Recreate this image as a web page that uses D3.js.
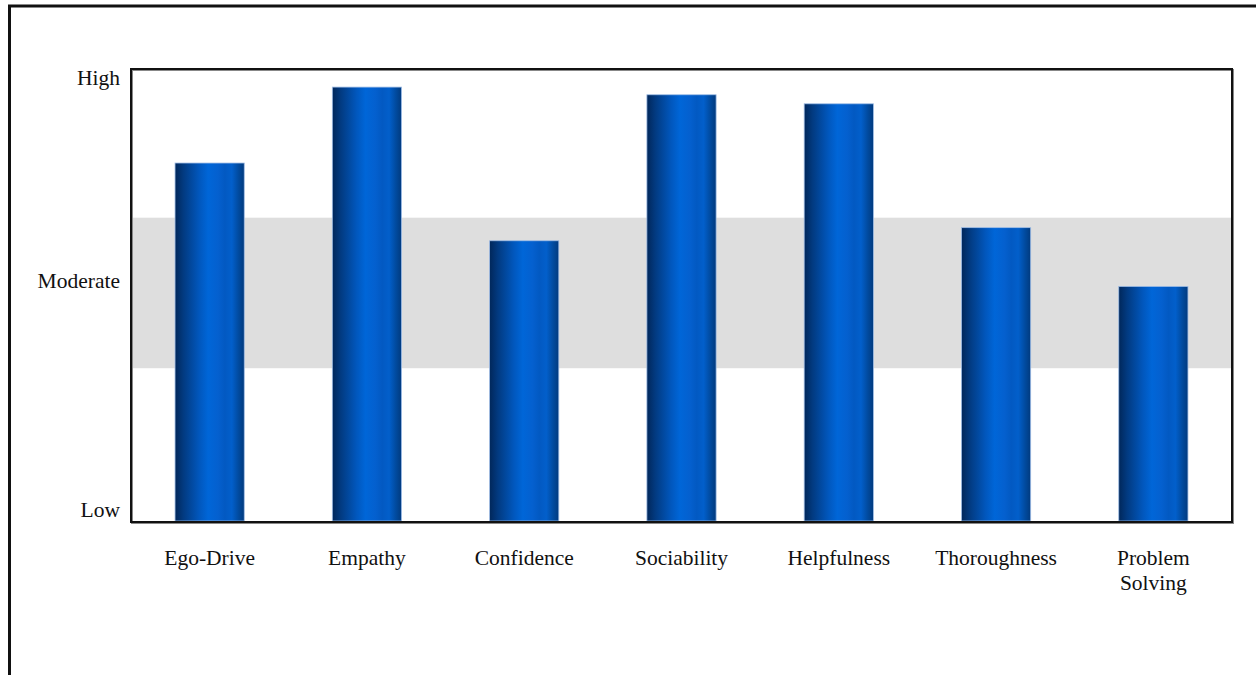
<!DOCTYPE html>
<html>
<head>
<meta charset="utf-8">
<script src="https://cdn.jsdelivr.net/npm/d3@7"></script>
<style>
	body { margin: 0; background: #fff; }
	text { font-family: "Liberation Serif", "Times New Roman", serif; }
</style>
</head>
<body>
<svg width="1256" height="675" id="perfil"></svg>
<script>
	// trait names, scores (0 = Low, 100 = High)
	var traits = ["Ego-Drive", "Empathy", "Confidence", "Sociability", "Helpfulness", "Thoroughness", "Problem Solving"];
	var scores = [79.2, 96.0, 62.0, 94.3, 92.3, 64.9, 51.9];
	var levelLabels = ["Low", "Moderate", "High"];
	var levelValues = [2.5, 53.2, 98];
	var moderateBand = [33.8, 67.1];

	var svg = d3.select("svg#perfil"),
		margin = { top: 69, right: 24, bottom: 153, left: 131 },
		width = +svg.attr("width") - margin.left - margin.right,
		height = +svg.attr("height") - margin.top - margin.bottom;

	// outer frame (runs off the page on right and bottom)
	svg.append("rect")
		.attr("x", 9.5).attr("y", 6)
		.attr("width", 1300).attr("height", 700)
		.attr("fill", "none")
		.attr("stroke", "#111")
		.attr("stroke-width", 3);

	var g = svg.append("g").attr("transform", "translate(" + margin.left + "," + margin.top + ")");

	var defs = svg.append("defs");
	var grad = defs.append("linearGradient")
		.attr("id", "barGrad")
		.attr("x1", "0%").attr("x2", "100%")
		.attr("y1", "0%").attr("y2", "0%");
	[["0%", "#01275a"], ["12%", "#023a80"], ["35%", "#0157bd"], ["48%", "#0066d8"], ["62%", "#0460cf"],
	 ["72%", "#0259c2"], ["82%", "#025fcb"], ["92%", "#014a9e"], ["100%", "#013a7e"]].forEach(function(s) {
		grad.append("stop").attr("offset", s[0]).attr("stop-color", s[1]);
	});

	var x = d3.scaleBand()
		.domain(traits)
		.range([0, width])
		.paddingInner(0.56)
		.paddingOuter(0.28);

	var y = d3.scaleLinear()
		.domain([0, 100])
		.range([height - 1, 0]);

	// moderate band
	g.append("rect")
		.attr("x", 0)
		.attr("width", width)
		.attr("y", y(moderateBand[1]))
		.attr("height", y(moderateBand[0]) - y(moderateBand[1]))
		.attr("fill", "#dedede");

	// bars
	g.selectAll(".bar")
		.data(scores)
		.enter().append("rect")
		.attr("class", "bar")
		.attr("x", function(d, i) { return x(traits[i]); })
		.attr("width", x.bandwidth())
		.attr("y", function(d) { return y(d); })
		.attr("height", function(d) { return y(0) - y(d); })
		.attr("fill", "url(#barGrad)")
		.attr("stroke", "#9fbde6")
		.attr("stroke-width", 0.8);

	// plot frame with soft shadow
	g.append("rect")
		.attr("x", 1).attr("y", 1)
		.attr("width", width).attr("height", height)
		.attr("fill", "none")
		.attr("stroke", "#888")
		.attr("stroke-width", 2);
	g.append("rect")
		.attr("x", 0).attr("y", 0)
		.attr("width", width).attr("height", height)
		.attr("fill", "none")
		.attr("stroke", "#111")
		.attr("stroke-width", 2);

	// y axis labels
	var yAxis = g.append("g")
		.call(d3.axisLeft(y)
			.tickValues(levelValues)
			.tickFormat(function(d, i) { return levelLabels[i]; })
			.tickSize(0)
			.tickPadding(11));
	yAxis.select(".domain").remove();
	yAxis.selectAll("text")
		.style("font-family", "'Liberation Serif', 'Times New Roman', serif")
		.style("font-size", "21.5px")
		.attr("fill", "#111");

	// x axis labels, wrapped on spaces
	var xAxis = g.append("g")
		.attr("transform", "translate(0," + height + ")")
		.call(d3.axisBottom(x).tickSize(0).tickFormat(""));
	xAxis.select(".domain").remove();
	xAxis.selectAll(".tick").each(function(d) {
		var t = d3.select(this).append("text")
			.attr("y", 43)
			.attr("text-anchor", "middle")
			.attr("fill", "#111")
			.style("font-family", "'Liberation Serif', 'Times New Roman', serif")
			.style("font-size", "21.5px");
		var words = d === "Problem Solving" ? d.split(" ") : [d];
		words.forEach(function(w, i) {
			t.append("tspan").attr("x", 0).attr("dy", i === 0 ? 0 : 25).text(w);
		});
	});
</script>
</body>
</html>
